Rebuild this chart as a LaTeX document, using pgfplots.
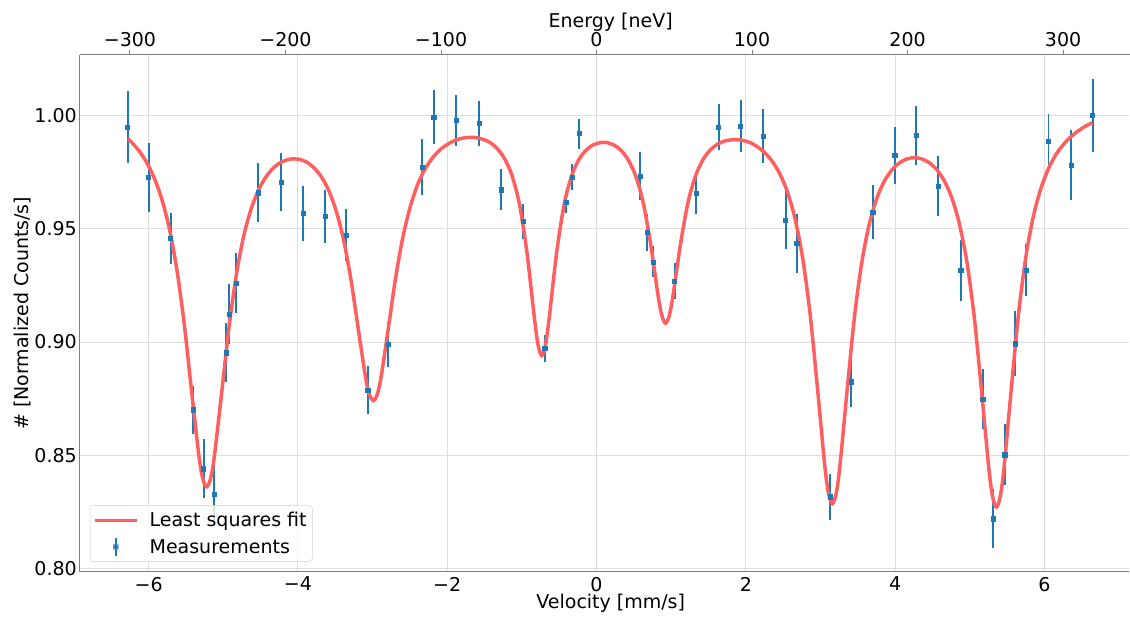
\documentclass[border=0pt]{standalone}
\usepackage{fontspec}
\setmainfont{DejaVu Sans}
\usepackage{pgfplots}
\pgfplotsset{compat=1.18}
\usepackage{pgfplotstable}
\definecolor{mplblue}{RGB}{31,119,180}
\definecolor{fitred}{RGB}{255,95,95}
\definecolor{spine}{RGB}{128,128,128}
\definecolor{gridc}{RGB}{222,222,222}
\newcommand{\tf}{\fontsize{19}{23}\selectfont}

\pgfplotstableread{
v y e
-6.283 0.9949 0.0157
-6.001 0.9728 0.0152
-5.706 0.9458 0.0113
-5.402 0.8701 0.0107
-5.264 0.8441 0.0131
-5.125 0.8328 0.0127
-4.964 0.8953 0.0131
-4.920 0.9123 0.0131
-4.830 0.9261 0.0132
-4.531 0.9659 0.0130
-4.223 0.9707 0.0127
-3.932 0.9567 0.0121
-3.637 0.9554 0.0117
-3.351 0.9472 0.0113
-3.066 0.8788 0.0105
-2.788 0.8989 0.0099
-2.332 0.9773 0.0123
-2.181 0.9993 0.0121
-1.881 0.9978 0.0111
-1.577 0.9965 0.0100
-1.282 0.9672 0.0090
-0.979 0.9532 0.0078
-0.693 0.8971 0.0061
-0.406 0.9617 0.0049
-0.326 0.9729 0.0057
-0.228 0.9920 0.0066
0.585 0.9732 0.0107
0.679 0.9483 0.0081
0.755 0.9354 0.0068
1.046 0.9269 0.0081
1.331 0.9657 0.0094
1.635 0.9949 0.0103
1.930 0.9953 0.0114
2.234 0.9909 0.0121
2.533 0.9538 0.0127
2.681 0.9435 0.0130
3.133 0.8317 0.0102
3.414 0.8825 0.0110
3.700 0.9573 0.0120
3.995 0.9823 0.0127
4.280 0.9913 0.0130
4.580 0.9689 0.0133
4.879 0.9317 0.0134
5.174 0.8749 0.0133
5.317 0.8220 0.0130
5.469 0.8503 0.0136
5.612 0.8993 0.0143
5.760 0.9317 0.0114
6.055 0.9885 0.0121
6.354 0.9781 0.0156
6.645 1.0000 0.0163
}\meas

\pgfplotstableread{
v y
-6.28 0.9898
-6.224 0.9880
-6.124 0.9842
-6.024 0.9791
-5.924 0.9723
-5.824 0.9631
-5.724 0.9503
-5.624 0.9324
-5.524 0.9082
-5.424 0.8781
-5.324 0.8491
-5.274 0.8396
-5.224 0.8361
-5.174 0.8393
-5.124 0.8485
-5.024 0.8769
-4.924 0.9064
-4.824 0.9299
-4.724 0.9471
-4.624 0.9590
-4.524 0.9674
-4.424 0.9731
-4.324 0.9770
-4.224 0.9794
-4.124 0.9806
-4.089 0.9808
-3.989 0.9807
-3.889 0.9795
-3.789 0.9770
-3.689 0.9731
-3.589 0.9670
-3.489 0.9580
-3.389 0.9452
-3.289 0.9274
-3.189 0.9051
-3.089 0.8835
-3.039 0.8766
-2.989 0.8741
-2.939 0.8768
-2.889 0.8840
-2.789 0.9060
-2.689 0.9288
-2.589 0.9471
-2.489 0.9604
-2.389 0.9701
-2.289 0.9768
-2.189 0.9816
-2.089 0.9851
-1.989 0.9874
-1.889 0.9891
-1.833 0.9897
-1.733 0.9903
-1.633 0.9903
-1.533 0.9896
-1.433 0.9882
-1.333 0.9855
-1.233 0.9810
-1.133 0.9736
-1.033 0.9609
-0.933 0.9398
-0.833 0.9109
-0.783 0.8988
-0.733 0.8940
-0.683 0.8988
-0.633 0.9109
-0.533 0.9398
-0.433 0.9608
-0.333 0.9734
-0.233 0.9807
-0.133 0.9849
-0.033 0.9872
0.067 0.9881
0.125 0.9881
0.225 0.9871
0.325 0.9847
0.425 0.9804
0.525 0.9733
0.625 0.9616
0.725 0.9433
0.825 0.9205
0.875 0.9117
0.925 0.9083
0.975 0.9117
1.025 0.9205
1.125 0.9432
1.225 0.9615
1.325 0.9732
1.425 0.9804
1.525 0.9848
1.625 0.9874
1.725 0.9888
1.825 0.9893
1.925 0.9892
2.025 0.9884
2.059 0.9880
2.159 0.9861
2.259 0.9834
2.359 0.9795
2.459 0.9740
2.559 0.9661
2.659 0.9545
2.759 0.9376
2.859 0.9131
2.959 0.8800
3.059 0.8451
3.109 0.8331
3.159 0.8286
3.209 0.8329
3.259 0.8448
3.359 0.8793
3.459 0.9121
3.559 0.9362
3.659 0.9527
3.759 0.9638
3.859 0.9712
3.959 0.9760
4.059 0.9791
4.159 0.9808
4.259 0.9814
4.358 0.9808
4.458 0.9791
4.558 0.9761
4.658 0.9712
4.758 0.9638
4.858 0.9526
4.958 0.9361
5.058 0.9116
5.158 0.8785
5.258 0.8435
5.308 0.8315
5.358 0.8271
5.408 0.8318
5.458 0.8441
5.558 0.8798
5.658 0.9137
5.758 0.9389
5.858 0.9563
5.958 0.9683
6.058 0.9768
6.158 0.9829
6.258 0.9873
6.358 0.9907
6.458 0.9933
6.558 0.9954
6.645 0.9968
}\fit

\begin{document}
\begin{tikzpicture}
\begin{axis}[
  scale only axis, width=1050pt, height=517pt,
  xmin=-6.92, xmax=7.14, ymin=0.7986, ymax=1.0267,
  axis x line=bottom, axis y line=left,
  axis line style={-, draw=spine, line width=1pt},
  xtick={-6,-4,-2,0,2,4,6},
  xticklabels={−6,−4,−2,0,2,4,6},
  ytick={0.80,0.85,0.90,0.95,1.00},
  yticklabels={0.80,0.85,0.90,0.95,1.00},
  major tick length=0pt,
  tick style={draw=none},
  xmajorgrids, ymajorgrids,
  grid style={draw=gridc, line width=1pt},
  ticklabel style={font=\tf, inner sep=0pt},
  xticklabel style={anchor=north, yshift=-5pt},
  yticklabel style={anchor=east, xshift=-3pt},
  xlabel={Velocity [mm/s]},
  ylabel={\# [Normalized Counts/s]},
  every axis x label/.style={at={(axis description cs:0.5057,-0.0716)}, anchor=base, font=\tf},
  every axis y label/.style={at={(axis description cs:-0.0495,0.5)}, anchor=base, rotate=90, font=\tf},
  legend cell align=left,
  legend style={at={(0.0095,0.0193)}, anchor=south west, draw=black!18, rounded corners=4pt,
    fill=white, fill opacity=0.8, text opacity=1, font=\tf,
    inner xsep=3pt, inner ysep=4pt, row sep=5pt, nodes={inner sep=3pt},
    /tikz/every odd column/.append style={column sep=8pt}},
]
\addlegendimage{legend image code/.code={\draw[fitred, line width=3.5pt] (0pt,0pt) -- (42pt,0pt);}}
\addlegendentry{Least squares fit}
\addlegendimage{legend image code/.code={\draw[mplblue, line width=2pt] (21pt,-9pt) -- (21pt,9pt); \fill[mplblue] (18.8pt,-2.2pt) rectangle (23.2pt,2.2pt);}}
\addlegendentry{Measurements}

\addplot[forget plot, only marks, mark=square*, mark size=2.1pt, color=mplblue,
  error bars/.cd, y dir=both, y explicit, error mark=none,
  error bar style={line width=2pt, color=mplblue}]
  table[x=v, y=y, y error=e] {\meas};
\addplot[forget plot, fitred, line width=3.5pt, smooth, no markers] table[x=v, y=y] {\fit};
\end{axis}

\begin{axis}[
  scale only axis, width=1050pt, height=517pt,
  xmin=-332.16, xmax=342.72, ymin=0.7986, ymax=1.0267,
  axis x line=top, axis y line=none,
  axis line style={-, draw=spine, line width=1pt},
  xtick={-300,-200,-100,0,100,200,300},
  xticklabels={−300,−200,−100,0,100,200,300},
  ytick=\empty,
  tick align=outside, major tick length=5pt,
  tick style={draw=spine, line width=1pt},
  xticklabel style={font=\tf, inner sep=0pt, anchor=south, yshift=3pt},
  xlabel={Energy [neV]},
  every axis x label/.style={at={(axis description cs:0.5057,1.054)}, anchor=base, font=\tf},
]
\addplot[draw=none, forget plot] coordinates {(0,0.9)};
\end{axis}
\path (-80pt,-43pt) rectangle (1050pt,572pt);
\end{tikzpicture}
\end{document}
